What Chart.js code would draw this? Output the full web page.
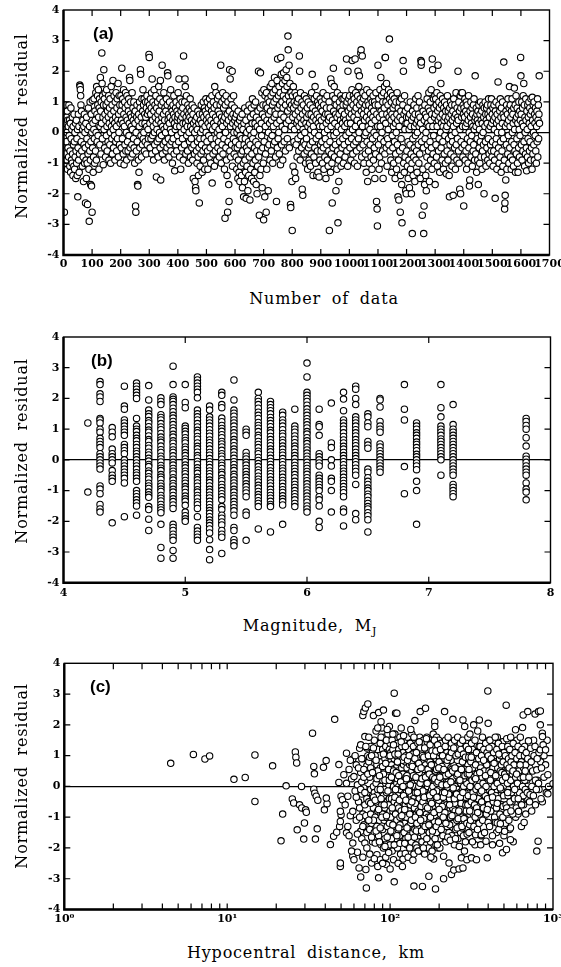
<!DOCTYPE html>
<html>
<head>
<meta charset="utf-8">
<script src="https://cdn.jsdelivr.net/npm/chart.js@4.4.1/dist/chart.umd.min.js"></script>
<style>
html,body{margin:0;padding:0;background:#fff;}
body{width:561px;height:967px;position:relative;overflow:hidden;}
canvas{position:absolute;left:0;}
.t{position:absolute;font-family:"DejaVu Serif",serif;font-size:16px;color:#000;white-space:nowrap;letter-spacing:0.8px;word-spacing:5px;}
.yt{transform:translate(-50%,-50%) rotate(-90deg);}
.xt{transform:translate(-50%,-50%);}
.pl{position:absolute;font-family:"Liberation Sans",Arial,sans-serif;font-weight:bold;font-size:17px;color:#000;}
</style>
</head>
<body>
<canvas id="ca" width="561" height="285" style="top:0px"></canvas>
<canvas id="cb" width="561" height="290" style="top:320px"></canvas>
<canvas id="cc" width="561" height="290" style="top:650px"></canvas>

<div class="t yt" style="left:21px;top:126px">Normalized residual</div>
<div class="t yt" style="left:21px;top:451px">Normalized residual</div>
<div class="t yt" style="left:21px;top:776px">Normalized residual</div>
<div class="t xt" style="left:324px;top:298px">Number of data</div>
<div class="t xt" style="left:310px;top:627px">Magnitude, M<sub style="font-size:11px">J</sub></div>
<div class="t xt" style="left:306px;top:952px">Hypocentral distance, km</div>
<div class="pl" style="left:93px;top:24px">(a)</div>
<div class="pl" style="left:91px;top:351px">(b)</div>
<div class="pl" style="left:90px;top:677px">(c)</div>

<script>
// ---------- Panel (a): normalized residual vs. data number (x = data number, 1..N)
const residualsA = [
-0.4,0.8,-2.6,0.3,-0.7,0.9,-1.0,0.1,-0.3,0.5,-0.9,0.0,0.7,-1.2,0.4,-0.5,0.2,-0.8,0.9,-0.1,
0.4,-1.1,-0.6,0.3,-1.3,0.8,-0.2,-0.9,0.1,-1.0,0.5,-0.7,-1.4,0.2,-0.4,-1.1,0.6,-0.3,-1.2,0.0,
-0.8,0.3,-1.5,-0.6,0.4,-1.0,-0.2,-1.4,0.1,-2.1,-0.5,0.6,-0.9,0.2,-1.3,-0.7,1.55,1.5,1.4,1.2,
0.9,-0.3,0.7,-0.6,0.3,-1.1,0.1,0.4,-0.8,-1.6,0.2,-0.4,0.6,-1.0,0.0,-0.5,-2.3,0.3,-0.9,-1.5,
0.5,-0.2,-1.0,-2.35,0.1,-0.7,0.8,-0.4,-1.2,-2.9,0.2,-0.6,1.0,-0.9,-1.7,-0.3,0.6,-1.75,0.0,-2.6,
1.05,-0.5,0.3,-1.3,-0.8,0.1,1.1,-0.2,-1.0,0.7,0.4,-0.6,1.3,0.0,-0.9,1.5,0.6,-0.3,1.2,0.9,
-0.1,1.4,0.5,-1.2,0.8,1.1,-0.4,0.2,1.8,0.7,-0.7,1.0,0.3,2.6,1.6,-0.2,1.2,0.5,-1.05,0.9,
2.05,0.1,1.1,-0.5,0.6,1.3,-0.8,0.4,0.9,-0.1,1.4,0.2,-0.6,0.7,1.0,-0.3,0.5,1.2,-0.9,0.3,
0.8,-0.4,1.1,0.0,-1.0,0.6,1.5,0.2,-0.2,0.9,-0.7,0.4,1.7,0.1,-0.5,0.7,1.2,-0.1,0.3,-0.9,
1.0,0.5,-0.3,1.3,0.2,-0.6,0.8,1.1,-0.2,0.4,1.6,-0.8,0.6,0.0,1.2,-0.4,0.9,0.3,-1.0,0.7,
1.2,-0.5,0.4,2.1,0.9,-0.2,1.1,0.3,-0.7,1.4,0.6,-1.05,0.2,1.0,-0.4,0.8,1.3,-0.6,0.5,0.0,
-0.9,1.2,0.4,-0.3,0.9,-0.6,0.7,1.1,-0.1,0.3,1.8,1.7,-0.5,0.6,1.0,-0.8,0.2,0.5,-0.4,1.3,
0.1,-0.7,0.8,0.4,-0.2,1.0,-0.5,0.6,-1.0,0.3,0.7,-2.4,-2.6,0.0,-0.6,0.5,0.9,-0.3,-1.7,-1.75,
0.4,-0.9,0.6,-1.3,0.2,1.0,-0.5,0.8,2.05,1.9,-0.1,0.5,-0.8,1.1,0.3,-0.4,0.7,1.4,-0.2,0.9,
0.0,1.1,-0.6,0.6,0.3,-0.3,1.0,0.5,-0.7,0.8,0.2,1.2,-0.4,0.6,1.0,0.1,-0.2,0.7,2.55,2.45,
0.9,0.3,-0.5,1.1,0.6,-0.2,0.8,1.3,-0.7,1.75,0.4,-0.1,1.0,0.2,-0.9,0.7,1.4,0.0,-0.4,0.9,
0.5,-0.6,1.2,0.3,-1.45,0.8,0.1,-0.3,1.0,0.6,-0.8,0.4,1.5,-0.2,0.7,0.0,1.1,-0.5,1.7,-1.55,
0.3,0.9,-0.1,0.5,2.2,-0.7,0.2,1.0,-0.4,0.6,1.3,0.1,-0.9,0.4,0.8,-0.3,0.0,0.7,-0.6,1.1,
0.2,-0.5,0.9,1.95,1.85,0.4,-0.2,0.6,-0.8,0.3,1.0,-0.4,0.5,0.1,1.4,-0.6,0.8,0.0,-0.3,0.7,
-1.0,0.4,0.9,-0.2,0.6,1.2,-0.7,0.3,-1.25,0.5,0.1,0.8,-0.4,1.0,0.2,-0.6,0.7,0.4,-0.1,0.5,
1.3,0.6,-0.3,1.75,0.9,-0.8,0.2,1.1,0.4,-1.2,0.7,0.0,-0.5,0.5,1.0,-0.2,0.8,0.3,-0.9,2.5,
0.6,0.1,-0.4,1.0,1.75,1.5,0.3,-0.7,0.5,1.2,-0.1,0.7,0.2,-0.6,0.9,0.4,-1.0,0.6,0.0,0.8,
-0.3,0.5,1.1,-0.8,0.2,0.7,-0.2,0.4,-0.5,0.9,0.1,-0.9,0.6,-1.5,0.3,-0.4,0.8,-0.7,0.0,-1.6,
0.4,-1.8,-1.9,0.2,-0.6,0.5,-1.0,0.1,-0.3,0.7,-0.8,-1.4,0.3,-0.5,-2.3,0.6,-0.2,-1.1,0.4,0.0,
-0.7,0.9,-0.4,0.3,-1.3,0.6,0.1,-0.6,1.0,-0.9,0.5,-0.2,0.8,-1.2,0.2,0.7,-0.5,1.1,0.0,0.4,
0.6,-0.3,1.0,-0.6,-1.2,0.3,0.8,-0.1,0.5,-0.8,1.1,0.2,-0.5,0.9,-1.0,0.4,-0.2,0.7,1.2,-1.65,
0.1,0.6,-0.7,1.0,0.3,-0.4,0.8,-1.1,1.5,0.2,-0.6,0.5,1.3,-0.2,0.9,-0.9,0.4,0.0,1.1,-0.5,
0.7,-0.3,1.2,0.1,-0.8,0.6,-0.1,0.9,-0.6,2.2,0.3,-1.0,0.5,1.0,-0.4,0.2,1.3,-0.7,0.4,0.8,
-0.2,1.1,-1.2,0.5,-2.8,0.9,0.0,-0.5,1.2,-0.9,0.3,-1.4,0.6,-2.6,1.0,-0.3,0.4,-1.7,-2.25,0.7,
2.05,-0.6,1.75,0.2,-0.8,1.1,0.5,-0.4,0.9,2.0,-1.1,0.3,0.6,-0.2,1.2,0.0,-0.7,0.8,0.4,-0.5,
0.5,-0.3,0.2,-0.8,0.6,-1.2,0.0,-0.5,0.3,-1.5,0.7,-0.9,0.1,-1.3,-0.4,0.4,-1.6,-0.1,0.5,-1.1,
-0.7,0.2,-1.4,-0.2,0.6,-1.8,-0.6,0.1,-1.0,-2.1,0.3,-0.4,-1.6,0.8,-0.9,-0.2,-1.3,0.4,-2.15,-0.5,
0.0,-1.1,0.7,-0.6,-1.9,0.2,-0.3,-1.4,0.9,-0.8,0.1,-2.2,-0.4,0.5,-1.2,-0.1,0.8,-1.5,-0.7,0.3,
1.1,-0.2,-1.0,0.6,-1.6,0.0,0.9,-0.5,-1.3,0.3,-0.9,1.0,-0.3,-1.7,0.5,-0.6,-2.0,0.2,-1.1,0.7,
-0.4,2.0,-0.8,0.4,-2.7,0.1,-1.4,0.8,1.95,-0.6,-1.2,0.3,-0.1,1.3,-1.8,0.6,-0.5,0.9,-1.0,-2.85,
1.4,-0.3,0.5,-2.1,1.2,0.2,-0.7,0.9,-2.6,1.3,-1.2,0.4,0.8,-0.5,1.1,-1.9,0.0,0.6,-0.4,1.0,
0.3,-0.9,1.5,0.7,-0.2,1.2,-0.6,0.4,1.6,-0.1,0.9,-1.0,1.3,0.2,-0.4,1.0,0.5,1.8,-0.3,0.7,
1.4,-0.8,0.6,1.1,-2.25,0.3,1.7,-0.5,2.4,0.8,-0.2,1.2,0.0,1.5,-0.7,0.9,0.4,1.3,-1.05,2.45,
0.6,1.9,-0.4,1.0,0.2,1.6,-0.9,0.8,1.2,1.95,0.5,-0.3,1.4,0.1,1.7,-0.6,0.9,1.1,2.05,0.3,
1.8,1.5,-0.2,0.7,3.15,2.7,1.2,0.4,2.2,-0.5,1.0,1.6,0.8,-2.35,-2.45,1.3,0.2,0.9,-1.6,-3.2,
1.2,0.5,-1.1,1.5,0.8,-0.3,1.0,0.1,-1.3,1.3,0.6,-1.5,0.9,-0.4,1.2,0.3,-0.8,1.0,0.4,-0.2,
0.7,1.1,-0.6,0.2,2.5,2.0,0.5,-0.9,1.3,-0.1,0.8,0.3,-0.5,1.0,-1.85,0.6,-2.05,0.1,0.9,-0.3,
0.4,-0.7,1.2,0.0,-0.4,0.7,-1.0,0.3,1.1,-0.2,0.5,-0.6,0.8,-1.2,0.2,1.0,-0.5,0.6,-0.9,-1.0,
0.3,-0.4,0.9,-1.1,0.1,0.6,-0.7,1.3,0.4,1.9,-0.3,0.8,-1.4,0.2,0.5,-0.8,1.1,0.0,-0.5,1.5,
0.7,-1.0,0.4,-0.2,1.2,-1.4,0.6,-0.6,1.0,-1.3,0.3,0.9,-0.1,-1.45,0.5,0.2,-0.9,1.1,-0.4,0.8,
-0.6,0.4,1.0,-0.3,0.7,-1.0,0.2,1.3,-0.5,0.9,-1.2,0.5,0.0,-0.8,1.1,-0.2,0.6,-1.5,0.3,0.8,
-0.4,1.2,-0.9,0.1,0.6,-1.1,0.4,-0.6,1.0,-3.2,0.5,-0.3,0.8,-1.3,1.75,0.2,-0.7,1.6,-1.0,-2.3,
0.4,1.2,-0.5,2.1,0.7,-0.1,1.5,-0.8,0.3,1.1,-0.4,0.6,-1.9,0.9,0.0,-1.2,0.5,1.3,-0.6,-2.95,
0.2,-0.9,-1.6,0.6,1.0,-0.3,0.8,-0.7,0.4,1.2,-1.1,0.1,0.7,-0.5,1.1,0.3,-0.2,0.9,-1.0,0.5,
1.1,-0.4,0.6,0.2,-0.8,1.2,0.4,-0.1,0.9,2.4,-0.6,1.0,0.3,-1.1,2.0,0.7,-0.3,1.1,0.0,0.5,
1.2,-0.5,0.8,0.3,-0.9,1.0,0.6,-0.2,1.4,2.35,0.1,-0.7,0.9,1.2,-0.4,0.5,1.1,-1.0,0.7,2.4,
0.2,1.3,-0.3,0.8,-0.6,1.0,0.4,-1.1,1.2,2.0,0.6,-0.2,1.5,0.0,1.85,0.9,-0.5,1.1,0.3,2.6,
2.7,0.7,-0.8,1.0,2.5,0.2,1.3,-0.4,0.6,1.1,-1.0,0.8,0.4,-0.1,1.2,-0.7,0.9,0.0,-1.3,0.5,
1.4,-0.3,0.7,-1.6,1.0,0.2,-0.6,0.9,0.4,-1.0,1.3,0.1,-0.4,0.6,1.1,-0.8,0.3,0.8,-1.2,1.0,
-0.2,0.5,1.2,-0.9,0.7,0.0,-0.5,1.0,-1.5,0.4,0.9,-0.7,1.3,-0.1,-2.25,0.6,-2.5,-3.05,0.2,2.2,
0.9,-0.4,1.1,-1.2,0.5,-0.8,1.4,0.2,-0.2,1.8,0.7,-1.0,1.2,0.0,0.6,-0.6,1.0,-1.5,0.4,1.3,
-0.3,0.8,1.5,-0.7,2.45,2.45,0.3,1.0,-0.5,1.6,0.6,-1.1,1.2,-0.2,0.9,0.1,1.4,-0.4,0.5,3.05,
1.1,-0.6,0.7,1.3,-0.9,0.4,1.0,-1.3,0.6,-0.1,1.2,-0.5,0.8,0.2,-1.0,0.5,1.1,-0.3,0.9,-1.5,
0.3,-0.7,1.0,0.0,-1.2,0.6,1.3,-0.4,0.4,-2.1,0.8,-0.9,-2.2,0.2,1.0,-0.6,0.5,-2.6,-1.4,0.7,
-0.2,1.1,-1.7,-2.95,0.4,-0.5,0.9,2.35,2.0,-1.0,0.6,-1.3,1.2,0.1,-0.8,0.7,-1.9,0.3,-2.0,0.5,
-0.6,0.3,-1.1,0.8,-0.3,-1.5,0.5,-0.9,0.1,-1.8,0.6,-0.4,1.0,-1.2,0.2,-0.7,-2.0,0.4,-1.0,-3.3,
0.7,-0.2,-1.4,0.5,-0.8,0.9,-0.5,0.2,-1.6,0.6,-0.1,1.1,-0.9,0.3,-0.6,0.8,-1.3,0.0,0.4,1.2,
-0.4,0.6,-1.0,0.2,1.0,-0.7,0.5,-1.5,0.3,2.35,2.2,2.3,-0.3,0.8,-2.7,0.1,-1.2,0.7,-0.5,-3.3,
-2.4,0.4,-1.7,0.9,-0.2,0.6,-1.4,0.0,-1.9,0.5,-0.8,1.1,-0.4,0.3,-1.1,0.8,-0.6,1.3,0.2,-1.6,
0.7,-0.3,1.0,-0.9,0.4,1.4,-0.5,0.6,-1.2,2.4,2.05,0.2,-0.7,1.1,-0.1,0.8,-1.0,0.5,1.2,-1.7,
0.6,1.1,-0.4,0.9,-0.8,1.3,0.2,-1.1,0.7,2.2,0.4,-0.6,1.0,-0.2,0.8,-1.3,0.5,1.2,0.0,1.6,
-0.5,0.3,0.9,-0.9,0.6,1.1,-0.3,0.2,-1.2,0.8,0.4,-0.7,1.0,-0.1,0.5,-1.0,0.7,0.1,-1.35,0.9,
0.2,-0.6,1.2,0.4,-0.9,0.7,-0.2,0.5,-1.4,-2.1,0.8,-0.4,0.3,1.0,-0.7,0.6,-0.1,0.9,-1.1,0.4,
-0.3,0.7,-2.05,0.2,1.1,-0.8,0.5,-0.5,0.9,0.0,-1.2,0.6,1.3,-0.4,0.3,-0.9,0.8,-0.2,0.5,2.0,
0.4,-0.6,1.0,-1.0,0.7,-1.85,0.1,1.2,-2.0,0.8,-0.3,1.3,0.5,-0.5,1.3,0.2,-0.8,0.9,0.6,-2.4,
0.8,-0.4,0.5,1.1,-0.9,0.2,0.7,-0.6,1.0,-1.2,0.3,0.9,-0.2,0.6,-1.0,0.4,1.2,-0.5,0.0,-1.75,
-1.55,0.7,-0.3,0.5,1.0,-0.8,0.3,-0.1,0.8,-1.1,0.6,0.2,-0.6,0.9,-0.4,1.1,0.1,-0.9,0.4,1.85,
0.5,-0.7,0.2,0.8,-1.3,0.6,-0.2,0.4,-0.9,0.7,-1.7,0.3,0.9,-0.5,0.1,-1.0,0.6,-0.3,1.0,-0.8,
0.4,-0.1,0.7,-1.2,0.3,-0.6,0.9,0.0,-0.4,0.5,-2.0,0.8,-0.8,0.2,1.0,-0.3,0.6,-1.1,0.4,0.8,
-0.5,0.3,0.9,-0.9,0.6,-0.2,1.1,0.1,-0.7,0.5,-1.0,0.7,0.2,-0.4,0.9,-0.6,1.1,0.3,-0.8,0.6,
-0.3,0.8,-1.1,0.4,-0.6,0.9,0.1,-0.9,0.5,-2.15,0.7,-0.4,1.0,-0.2,0.3,-1.2,0.6,0.0,-0.7,1.65,
0.4,-0.5,0.9,-1.0,0.2,0.7,-0.8,1.1,-0.3,0.5,-1.3,0.8,0.0,-0.6,0.3,1.0,-1.1,0.6,-0.2,2.3,
0.5,-0.9,-2.5,-2.3,-2.05,0.2,-1.55,0.7,-0.4,0.9,-1.2,0.3,0.6,-0.7,1.1,-0.1,0.4,-1.0,0.8,1.5,
-0.5,0.2,0.9,-0.8,0.5,-1.2,0.7,-0.3,1.1,0.0,-0.9,0.6,0.3,-1.1,0.8,-0.4,1.45,0.1,-0.6,0.9,
-1.3,0.4,1.2,-0.7,0.5,-0.2,0.8,-1.0,0.3,-1.3,0.6,-0.5,1.0,0.1,-0.8,0.7,-0.1,0.4,2.45,1.85,
0.6,-0.4,1.0,-0.9,0.3,0.8,-0.6,1.2,0.2,1.6,-0.3,0.9,-1.1,0.5,0.0,-0.7,1.1,0.4,-0.5,-1.25,
0.7,0.1,-0.8,0.9,-0.2,0.5,-1.0,1.0,0.3,-0.6,0.8,-0.3,0.6,-0.9,1.1,0.2,-0.5,0.7,-1.2,1.15,
0.4,-0.7,0.9,0.0,-0.4,1.0,-0.9,0.6,0.3,-0.1,0.8,-0.6,0.5,-1.0,0.2,0.7,-0.3,1.1,-0.8,0.4,
0.9,-0.2,0.6,1.85,0.3
];

// ---------- Panel (b): residuals grouped by magnitude MJ
const magnitudesB = [4.2,4.3,4.4,4.5,4.6,4.7,4.8,4.9,5.0,5.1,5.2,5.3,5.4,5.5,5.6,5.7,5.8,5.9,6.0,6.1,6.2,6.3,6.4,6.5,6.6,6.8,6.9,7.1,7.2,7.8];
const residualsB = [
[1.2,-1.05],
[2.55,2.45,2.15,2.05,1.9,1.35,1.3,1.2,1.0,0.9,0.7,0.6,0.5,0.4,0.2,0.1,0.0,-0.1,-0.2,-0.3,-0.85,-0.95,-1.1,-1.45,-1.6,-1.7],
[1.05,0.9,0.75,0.35,0.2,0.1,0.0,-0.1,-0.35,-0.5,-0.6,-0.7,-2.05],
[2.4,1.75,1.65,1.3,1.2,1.1,1.0,0.9,0.8,0.5,0.4,0.3,0.2,0.0,-0.1,-0.2,-0.3,-0.4,-0.5,-0.6,-0.75,-1.85],
[2.5,2.4,2.3,2.2,2.1,2.0,1.35,1.1,1.0,0.92,0.8,0.7,0.62,0.5,0.4,0.28,0.2,0.1,0.0,-0.1,-0.2,-0.3,-0.42,-0.5,-0.6,-0.7,-1.0,-1.1,-1.2,-1.3,-1.4,-1.5,-1.8],
[2.42,1.95,1.62,1.5,1.41,1.28,1.2,1.08,0.97,0.9,0.78,0.66,0.6,0.47,0.38,0.25,0.16,0.05,-0.04,-0.15,-0.22,-0.36,-0.44,-0.55,-0.63,-0.76,-0.85,-0.93,-1.05,-1.14,-1.22,-1.52,-1.62,-1.93,-2.3],
[2.02,1.9,1.8,1.47,1.38,1.3,1.18,1.07,0.98,0.86,0.74,0.65,0.57,0.45,0.33,0.24,0.12,0.03,-0.07,-0.18,-0.27,-0.35,-0.48,-0.56,-0.64,-0.77,-0.86,-0.95,-1.03,-1.16,-1.25,-1.34,-1.45,-1.55,-1.63,-1.72,-2.1,-2.85,-3.2],
[3.05,2.45,2.05,1.97,1.9,1.8,1.68,1.57,1.45,1.36,1.25,1.15,1.04,0.95,0.83,0.74,0.62,0.54,0.43,0.32,0.24,0.13,0.02,-0.08,-0.17,-0.28,-0.37,-0.46,-0.58,-0.66,-0.77,-0.85,-0.96,-1.05,-1.16,-1.27,-1.36,-1.47,-1.58,-2.1,-2.2,-2.3,-2.42,-2.52,-2.62,-2.95,-3.2],
[2.45,1.87,1.7,1.1,1.02,0.93,0.84,0.72,0.63,0.55,0.42,0.34,0.23,0.14,0.03,-0.06,-0.17,-0.26,-0.37,-0.45,-0.56,-0.67,-0.76,-0.87,-0.95,-1.06,-1.18,-1.27,-1.35,-1.48,-1.7,-1.82,-1.92,-2.0],
[2.7,2.6,2.5,2.4,2.3,2.2,2.02,1.62,1.5,1.4,1.3,1.18,1.07,0.96,0.88,0.76,0.67,0.55,0.44,0.36,0.25,0.14,0.06,-0.05,-0.14,-0.26,-0.35,-0.44,-0.57,-0.65,-0.75,-0.86,-0.97,-1.05,-1.16,-1.25,-1.37,-1.46,-1.58,-1.85,-2.2,-2.32,-2.42,-2.52,-2.62],
[1.75,1.62,1.4,1.3,1.2,1.1,0.98,0.87,0.77,0.65,0.56,0.46,0.35,0.24,0.15,0.04,-0.06,-0.15,-0.25,-0.36,-0.45,-0.55,-0.66,-0.74,-0.85,-0.96,-1.05,-1.15,-1.24,-1.35,-1.45,-1.56,-1.65,-1.74,-1.85,-1.96,-2.05,-2.14,-2.25,-2.38,-2.6,-2.92,-3.25],
[2.2,2.1,1.8,1.7,1.36,1.24,1.12,1.02,0.93,0.82,0.72,0.6,0.52,0.42,0.31,0.2,0.12,0.02,-0.1,-0.18,-0.28,-0.4,-0.48,-0.6,-0.68,-0.8,-0.9,-1.0,-1.1,-1.2,-1.3,-1.52,-1.62,-1.8,-1.9,-2.02,-2.12,-2.3,-2.42,-2.52,-3.05],
[2.6,1.95,1.62,1.52,1.42,1.3,1.2,1.1,0.98,0.88,0.78,0.66,0.57,0.46,0.35,0.26,0.15,0.05,-0.06,-0.15,-0.26,-0.35,-0.47,-0.55,-0.66,-0.75,-0.85,-0.96,-1.05,-1.16,-1.25,-1.36,-1.45,-1.56,-1.66,-1.8,-2.2,-2.3,-2.6,-2.7,-2.8],
[1.0,0.9,0.8,0.24,0.12,0.03,-0.08,-0.17,-0.28,-0.38,-0.48,-0.57,-0.67,-0.78,-0.87,-0.98,-1.08,-1.2,-1.7,-1.8,-2.62],
[2.2,2.0,1.9,1.8,1.68,1.55,1.45,1.35,1.22,1.12,1.03,0.92,0.8,0.72,0.6,0.5,0.4,0.28,0.2,0.08,-0.02,-0.12,-0.22,-0.33,-0.42,-0.53,-0.63,-0.72,-0.83,-0.92,-1.03,-1.13,-1.22,-1.33,-1.42,-1.52,-2.25],
[1.9,1.8,1.7,1.6,1.5,1.38,1.28,1.18,1.08,0.96,0.88,0.76,0.66,0.56,0.46,0.35,0.26,0.15,0.05,-0.05,-0.15,-0.25,-0.36,-0.45,-0.55,-0.66,-0.75,-0.85,-0.96,-1.06,-1.16,-1.25,-1.35,-1.45,-1.52,-2.35],
[1.55,1.45,1.3,1.2,1.1,0.98,0.86,0.77,0.65,0.56,0.45,0.35,0.24,0.15,0.04,-0.06,-0.16,-0.27,-0.36,-0.46,-0.57,-0.67,-0.76,-0.87,-0.97,-1.06,-1.17,-1.27,-1.36,-1.47,-2.1],
[1.65,1.1,1.0,0.9,0.78,0.67,0.56,0.45,0.36,0.24,0.14,0.04,-0.08,-0.18,-0.28,-0.38,-0.48,-0.58,-0.7,-0.8,-0.9,-1.0,-1.1,-1.2,-1.3,-1.42,-1.52],
[3.15,2.7,2.2,2.1,2.0,1.9,1.78,1.66,1.55,1.45,1.34,1.24,1.14,1.04,0.92,0.84,0.72,0.62,0.53,0.42,0.32,0.22,0.12,0.02,-0.08,-0.18,-0.28,-0.38,-0.47,-0.58,-0.68,-0.78,-0.88,-0.98,-1.08,-1.18,-1.28,-1.38,-1.5,-1.6,-1.7],
[1.65,1.15,1.08,0.8,0.2,0.1,0.0,-0.1,-0.2,-0.5,-0.6,-0.7,-0.8,-0.9,-1.0,-1.2,-1.3,-1.5,-2.0,-2.2],
[1.85,0.55,0.4,0.0,-0.2,-0.6,-0.7,-1.0,-1.7],
[2.2,1.98,1.6,1.3,1.2,1.1,1.0,0.88,0.76,0.65,0.55,0.44,0.35,0.24,0.14,0.04,-0.06,-0.16,-0.27,-0.37,-0.46,-0.57,-0.67,-0.77,-0.87,-0.97,-1.07,-1.2,-1.6,-1.7,-2.15],
[2.4,2.3,2.0,1.8,1.4,1.3,1.2,1.1,0.98,0.88,0.78,0.66,0.56,0.46,0.35,0.24,0.14,0.04,-0.06,-0.16,-0.27,-0.38,-0.5,-0.8,-1.75,-1.95],
[1.5,1.4,1.2,1.08,0.6,0.48,0.38,-0.3,-0.4,-0.58,-0.7,-0.8,-0.92,-1.0,-1.12,-1.2,-1.32,-1.42,-1.52,-1.6,-1.72,-1.82,-1.95,-2.35],
[2.0,1.95,1.72,1.25,1.1,1.0,0.9,0.52,0.42,0.3,0.2,0.1,0.0,-0.1,-0.2,-0.3,-0.4],
[2.45,1.65,1.3,-0.22,-1.1],
[1.2,1.1,1.0,0.88,0.8,0.7,0.58,0.5,0.4,0.3,0.18,0.1,0.0,-0.1,-0.2,-0.32,-0.7,-1.0,-2.1],
[2.45,1.7,1.4,1.1,1.0,0.9,0.8,0.68,0.6,0.5,0.4,0.3,0.2,0.1,0.0,-0.5],
[1.8,1.15,1.0,0.9,0.8,0.7,0.6,0.5,0.4,0.3,0.2,0.1,0.0,-0.1,-0.2,-0.3,-0.4,-0.5,-0.8,-0.9,-1.0,-1.1,-1.2],
[1.35,1.25,1.12,1.0,0.72,0.45,0.12,0.02,-0.08,-0.2,-0.3,-0.4,-0.5,-0.75,-0.95,-1.05,-1.3]
];

// ---------- Panel (c): [hypocentral distance km, residual]
const cNear = [[4.5,0.75],[6.2,1.04],[7.3,0.89],[7.8,0.99],[11,0.23],[12.9,0.29],[14.8,1.02],[14.8,-0.49],[19,0.67],[21.4,-1.77],[21.9,-0.9],[23,0.02],[25.1,-0.41],[25.6,-0.54],[26.2,1.12],[26.4,0.95],[26.7,0.76],[26.9,-1.41],[27.8,-0.6],[28.7,-0.7],[28.6,0.0],[29.5,-1.71],[29.8,-1.19],[30.3,-0.76],[30.6,-0.84],[33.4,1.73],[34,0.65],[34.3,0.41],[34,-0.09],[34.5,-0.22],[35.2,-0.32],[35.7,-1.38],[34.8,-1.71],[36,-0.45],[39,0.62],[40.5,0.84],[41,-0.56],[40.6,-0.38],[39.5,-0.76],[45.7,2.18],[43,-1.89],[45,-1.62],[47,-1.49],[48.5,0.71],[48.5,0.13],[49,-1.3],[49.5,-1.14],[50,-0.92],[49.5,-0.81],[50,-0.32],[49.5,-2.6],[49.5,-2.49]];
const cMid = [[52,0.38],[54,0.1],[51,-0.43],[53,-0.6],[54,1.08],[55,-1.3],[54,-1.51],[55,-0.32],[56,0.55],[57,-0.95],[58,0.25],[59,0.89],[59,-0.81],[59,-1.84],[59,-2.27],[60,0.32],[60,-2.38],[61,-0.15],[62,0.7],[62,-1.1],[63,-2.14],[63,0.05],[64,-0.5],[64.5,-2.65],[65,1.24],[65,-0.7],[66,1.35],[66,-1.46],[66,-2.94],[66,0.45],[67,-0.25],[67,-1.7],[68,0.9],[68,-0.9],[68,2.3],[69,2.43],[69,-0.05],[69,-1.25],[70,1.62],[70,-1.84],[70,0.2],[70,-0.6],[70.5,2.55],[71,-2.7],[71.5,-3.3],[72,0.67],[72,-0.4],[72,-1.5],[73,2.68],[73,-1.08],[73,1.0],[73,-0.2],[56,-1.6],[57,0.85],[58,-2.1],[61,1.0],[62,-0.35],[63,-1.55],[64,0.6],[65,-1.0],[67,0.15],[68,-2.3],[69,0.55],[71,-0.95],[72,1.25],
[74,-0.5],[74,0.8],[75,-1.4],[75,0.3],[75,-2.2],[76,1.3],[76,-0.1],[76,-0.9],[77,-2.49],[77,0.5],[77,-1.2],[78,1.1],[78,-0.3],[78,-1.8],[79,2.3],[79,0.0],[79,-0.7],[80,0.9],[80,-1.5],[80,-0.2],[80,1.5],[81,-1.84],[81,0.4],[81,-1.0],[82,1.8],[82,-0.5],[82,0.1],[83,-2.22],[83,-1.3],[83,0.7],[84,1.2],[84,-0.8],[84,-0.1],[85,2.4],[85,-2.97],[85,0.3],[85,-1.6],[86,1.0],[86,-0.4],[86,-1.1],[87,-2.38],[87,0.6],[87,1.4],[88,-0.9],[88,0.0],[88,-1.9],[89,1.9],[89,0.8],[89,-0.6],[90,-1.4],[90,0.2],[90,1.2],[91,2.48],[91,-0.3],[91,-2.0],[92,0.5],[92,-1.1],[92,1.6],[93,-0.7],[93,0.9],[93,-1.7],[94,0.1],[94,1.3],[94,-2.3],[95,-2.54],[95,-0.2],[95,0.7],[96,1.1],[96,-1.3],[96,-0.5],[97,0.4],[97,1.7],[97,-0.9],[98,-1.6],[98,0.0],[98,1.0],[99,1.95],[99,-0.4],[99,-1.2],[100,-2.68],[100,0.6],[100,1.4],[100,-0.8],[100,-1.9],[76,0.6],[79,-1.1],[81,1.0],[84,0.5],[86,-1.8],[88,1.6],[90,-0.9],[92,-0.1],[94,-1.0],[96,0.3],[98,-0.6],[99,1.2],[83,-0.3],[87,-0.1],[91,0.4],[95,1.5]];
const cCore = [[101,0.2],[101,-1.0],[101,1.1],[102,-0.4],[102,0.7],[102,-1.7],[103,1.5],[103,-0.1],[103,-2.1],[104,0.4],[104,-0.8],[104,1.2],[105,-2.38],[105,0.0],[105,-1.3],[106,3.03],[106,-3.1],[106,0.9],[106,-0.5],[107,-1.5],[107,0.3],[107,1.7],[108,2.38],[108,-0.9],[108,0.6],[109,-0.2],[109,-1.9],[109,1.0],[110,2.38],[110,0.1],[110,-1.1],[111,-0.6],[111,1.4],[111,-2.0],[112,0.5],[112,-0.3],[112,-1.4],[113,1.2],[113,-0.7],[113,0.0],[114,-1.6],[114,0.8],[114,-0.1],[115,1.6],[115,-1.0],[115,0.3],[116,-0.4],[116,-2.2],[116,0.9],[117,1.9],[117,-0.8],[117,0.2],[118,-1.3],[118,0.6],[118,1.3],[119,-0.5],[119,-1.8],[119,0.0],[120,-2.36],[120,0.4],[120,1.1],[121,-0.9],[121,0.7],[122,-1.5],[122,0.1],[122,1.5],[123,-0.3],[123,-1.2],[124,-2.18],[124,0.8],[124,-0.6],[125,1.0],[125,-1.7],[125,0.3],
[126,-0.2],[126,1.3],[126,-1.0],[127,0.6],[127,-1.9],[128,1.6],[128,-0.5],[128,0.0],[129,-1.3],[129,0.9],[130,-0.8],[130,0.4],[130,1.2],[131,-1.6],[131,-0.1],[132,0.7],[132,-2.0],[133,1.4],[133,-0.6],[134,0.2],[134,-1.2],[135,1.0],[135,-0.3],[135,-1.8],[136,0.5],[136,1.7],[137,-0.9],[137,0.1],[138,-1.5],[138,0.8],[139,1.3],[139,-0.4],[140,-3.24],[140,-2.2],[140,0.3],[140,-1.1],[141,1.1],[141,-0.7],[142,2.14],[142,0.0],[142,-1.4],[143,0.6],[143,-0.2],[144,-1.9],[144,1.5],[145,0.4],[145,-0.9],[146,-2.0],[146,1.0],[146,-0.5],[147,0.2],[147,-1.3],[148,1.4],[148,-0.1],[149,-0.8],[149,0.7],[150,-1.6],[150,1.2],[150,0.0],[151,-0.4],[151,-1.1],[152,0.9],[152,1.6],[153,2.43],[153,-2.1],[153,-0.6],[154,0.3],[154,-1.5],[155,1.1],[155,-0.2],[156,-1.0],[156,0.5],[157,1.3],[157,-1.8],[158,-3.25],[158,0.1],[158,-0.7],[159,0.8],[159,-1.2],[160,1.5],[160,-0.3],
[161,-1.6],[161,0.4],[162,1.0],[162,-0.8],[163,0.1],[163,-2.2],[164,1.4],[164,-0.4],[165,2.54],[165,-1.2],[165,0.7],[166,-0.1],[166,1.2],[167,-0.9],[167,-1.9],[168,0.5],[168,1.6],[169,-0.5],[169,-1.4],[170,0.9],[170,0.0],[171,-1.0],[171,1.3],[172,-0.3],[172,-2.0],[173,-2.92],[173,0.6],[173,1.1],[174,-0.7],[174,-1.5],[175,0.2],[175,1.5],[176,-1.1],[176,0.8],[177,-0.2],[177,-1.8],[178,1.2],[178,0.3],[179,-0.6],[179,-1.3],[180,1.0],[180,-0.1],[181,-2.1],[181,0.5],[182,1.4],[182,-0.9],[183,0.0],[183,-1.6],[184,0.7],[184,1.7],[185,-2.36],[185,-0.4],[186,1.1],[186,-1.2],[187,0.2],[187,-0.7],[188,2.1],[188,1.95],[188,-1.4],[189,0.6],[189,-0.2],[190,-3.33],[190,1.3],[190,-1.0],[191,0.4],[191,-1.9],[192,0.9],[192,-0.5],[193,-1.5],[193,1.6],[194,0.1],[194,-0.8],[195,1.2],[195,-1.2],[196,-0.3],[196,0.7],[197,-2.0],[197,1.0],[198,-0.6],[198,0.3],[199,1.5],[199,-1.1],[200,-0.1],[200,0.8],[201,-1.7],[202,-2.0],[202,1.1],[203,0.4],[204,-0.9],[205,1.4],[206,-0.4],[207,0.6],[208,-1.3],[209,1.0],[210,-0.2],
[211,-1.6],[212,0.5],[213,-3.0],[213,-2.27],[213,1.2],[214,-0.7],[215,0.2],[216,2.43],[216,-1.1],[217,0.9],[218,-0.3],[219,1.5],[220,-1.8],[220,0.0],[221,0.7],[222,-0.6],[223,1.1],[224,-1.3],[225,0.3],[226,-0.1],[227,1.6],[228,-0.9],[229,0.5],[230,-2.49],[230,-1.5],[231,1.0],[232,-0.4],[233,0.2],[234,1.3],[235,-1.0],[236,0.6],[237,-0.2],[238,-2.86],[238,1.4],[239,-1.6],[240,0.1],[241,0.9],[242,-0.7],[243,2.18],[243,0.4],[244,-1.2],[245,1.1],[246,-2.72],[246,-0.3],[247,0.7],[248,-1.9],[249,1.5],[250,0.0],[251,-0.8],[252,1.2],[253,-1.4],[254,0.3],[255,-0.5],[256,1.0],[257,-1.1],[258,0.6],[259,-0.1],[260,1.6],[261,-1.7],[262,0.2],[263,-0.6],[264,1.3],[265,-2.68],[265,-0.9],[266,0.5],[267,-1.3],[268,0.9],[269,-0.2],[270,1.4],[271,-1.5],[272,0.1],[273,0.7],[274,-2.32],[274,-0.4],[275,1.1],[276,-1.0],[277,0.4],[278,-0.1],[279,1.5],[280,2.16],[280,-2.65],[280,-0.7],[281,0.8],[282,-1.6],[283,0.0],[284,1.2],[285,-0.5],[286,0.5],[287,1.95],[287,-1.2],[288,-0.2],[289,0.9],[290,-1.8],[291,0.3],[292,1.3],[293,-0.8],[294,0.6],[295,-1.4],[296,-2.38],[296,0.1],[297,1.0],[298,-0.4],[299,-1.0],[300,0.7],[300,1.6],
[103,0.55],[107,-0.35],[111,0.25],[115,-1.25],[119,0.85],[123,-0.75],[127,0.35],[131,-0.45],[135,0.75],[139,-1.05],[143,-0.55],[147,0.95],[151,0.45],[155,-0.65],[159,-0.15],[163,0.55],[167,0.25],[171,-0.35],[175,-0.75],[179,0.45],[183,1.05],[187,-1.15],[191,-0.25],[195,0.35],[199,-0.45],[204,0.15],[208,0.65],[212,-0.35],[217,-0.85],[222,0.45],[227,0.15],[232,-1.25],[237,0.85],[242,0.25],[247,-0.95],[252,-0.25],[257,0.35],[262,-1.05],[267,0.75],[272,-0.55],[277,-1.35],[282,0.25],[287,0.55],[292,-0.35],[297,-1.55],[105,1.35],[113,-1.35],[121,1.65],[129,-1.65],[137,1.05],[145,-1.45],[153,1.25],[161,-1.05],[169,1.45],[177,-0.45],[185,0.35],[193,-0.15],[201,0.55],[209,-0.65],[219,0.35],[229,-0.25],[239,0.55],[249,-0.55],[259,0.85],[269,-0.75],[279,0.35],[289,-1.05]];
const cDense = [[66,-0.1],[67,0.9],[68,-1.3],[69,0.3],[70,-0.2],[71,1.3],[72,-2.0],[73,0.4],[74,-1.1],[74,1.6],[75,0.95],[76,-0.55],[77,1.0],[77,-1.65],[78,0.45],[79,-0.35],[79,1.25],[80,-2.35],[81,-0.45],[82,0.85],[82,-1.45],[83,0.25],[84,-2.6],[84,1.9],[85,-0.75],[86,0.35],[87,-1.35],[88,-0.4],[88,2.1],[89,-1.0],[90,0.65],[90,-2.5],[91,1.05],[92,-0.6],[93,0.2],[93,-1.95],[94,0.75],[95,-0.95],[96,1.85],[96,-1.65],[97,-0.15],[98,-2.15],[98,0.55],[99,0.2],[100,1.0],[101,-1.45],[102,0.3],[103,-0.7],[104,1.7],[104,-1.25],[105,0.5],[106,-1.9],[107,1.05],[108,-0.1],[109,0.45],[110,-1.6],[111,0.8],[112,-2.5],[112,1.05],[113,0.35],[114,-0.45],[115,-1.85],[116,0.15],[117,1.45],[118,-0.95],[119,-2.6],[120,0.0],[121,-0.3],[122,0.95],[123,-1.85],[124,1.3],[125,-0.45],[126,0.25],[127,-1.35],[128,0.85],[129,-2.3],[130,-0.15],[131,1.0],[132,-0.9],[133,0.05],[134,1.85],[135,-1.1],[136,-0.5],[137,0.65],[138,-2.4],[139,0.35],[140,1.6],[141,-1.65],[142,0.9],[143,-1.0],[144,0.3],[145,1.1],[146,-1.2],[147,-0.2],[148,0.55],[149,-2.1],[150,0.75],[151,1.45],[152,-0.85],[153,0.1],[154,-1.1],[155,0.6],[156,-1.45],[157,0.25],[158,1.0],[159,-0.5],[160,-2.0],[161,0.95],[162,-0.35],[163,1.25],[164,-1.3],[165,0.3],[166,-0.65],[167,1.55],[168,-1.7],[169,0.1],[170,-0.7],[171,0.55],[172,1.0],[173,-1.25],[174,0.4],[175,-0.3],[176,1.35],[177,-1.0],[178,-2.3],[179,0.7],[180,-0.55],[181,1.15],[182,-1.45],[183,0.3],[184,-0.2],[185,1.0],[186,-0.85],[187,1.5],[188,0.25],[189,-1.7],[190,0.5],[191,1.15],[192,-1.3],[193,0.55],[194,-0.35],[195,-1.9],[196,1.35],[197,0.15],[198,-1.15],[199,0.6],[200,-0.75],[202,0.3],[204,1.2],[206,-1.4],[208,0.05],[210,1.0],[212,-1.0],[214,0.55],[216,-0.2],[218,1.3],[220,-1.2],[222,0.05],[224,0.85],[226,-1.65],[228,0.4],[230,0.95],[232,-0.6],[234,-1.75],[236,0.15],[238,1.1],[240,-0.95],[242,0.5],[244,-0.05],[246,1.25],[248,-0.4],[250,0.6],[252,-1.7],[254,1.0],[256,-0.25],[258,-1.35],[260,0.4],[262,1.05],[264,-0.8],[266,-1.95],[268,0.2],[270,-0.35],[272,1.2],[274,0.55],[276,-1.3],[278,0.8],[280,-0.2],[282,1.05],[284,-1.05],[286,-2.1],[288,0.35],[290,0.95],[292,-0.6],[294,1.3],[296,-1.2],[298,0.4],[300,-0.6],[304,0.95],[308,-1.25],[312,0.35],[316,-0.05],[320,1.2],[324,-0.8],[328,0.6],[332,-1.9],[336,1.0],[340,0.1],[344,0.6],[348,-1.2],[352,1.3],[356,-0.45],[360,-1.9],[364,0.2],[368,-0.9],[372,1.0],[376,-0.2],[380,0.4],[384,1.1],[388,-1.0],[392,-0.3],[396,0.85],[400,-0.5],[405,1.5],[410,-1.0],[415,0.1],[420,0.6],[425,-1.9],[430,0.95],[435,-0.7],[440,1.3],[445,0.3],[450,-1.5],[455,1.6],[460,0.2],[465,-0.3],[470,-1.85],[475,1.25],[480,0.6],[485,-1.1],[490,1.45],[495,0.0],[500,-1.6],[510,-1.2],[520,1.55],[530,0.6],[540,-1.4],[550,1.6],[560,-0.5],[570,-1.8],[580,0.9],[590,-1.0],[600,1.5],[610,-0.9],[620,0.0],[630,1.6],[640,-1.3],[650,0.5],[660,-0.6],[670,1.3],[680,-0.9],[690,0.2],[700,-0.4],[720,0.6],[740,-0.8],[760,1.5],[780,-0.6],[800,0.2],[820,-0.1],[840,0.8],[860,-0.5],[880,1.0],[900,0.7],[920,1.5],[940,0.0]];
const cFar = [[302,-0.3],[303,1.2],[305,-1.5],[306,0.4],[308,-0.8],[309,1.7],[310,0.0],[312,-1.1],[313,0.8],[315,-0.5],[316,-2.32],[316,1.4],[318,0.2],[320,-1.8],[321,0.6],[323,-0.2],[325,1.0],[326,2.0],[327,-1.3],[329,0.3],[330,-0.6],[332,1.5],[333,-1.0],[335,-1.57],[335,0.7],[337,-0.1],[339,-2.38],[339,1.1],[340,-0.7],[342,0.4],[344,-1.4],[345,1.8],[346,0.0],[348,-0.4],[350,0.9],[352,-1.2],[353,2.16],[353,0.2],[355,-0.9],[357,1.3],[358,-0.2],[360,0.6],[362,-1.6],[363,-1.57],[364,1.0],[365,-0.5],[367,0.3],[369,1.6],[370,-1.1],[372,0.1],[374,-0.7],[376,1.2],[378,0.5],[380,-1.5],[382,0.8],[384,-0.3],[386,1.4],[388,-1.78],[388,0.0],[390,-0.9],[392,0.7],[394,1.1],[395,-2.32],[396,-0.4],[398,3.1],[398,0.3],[400,2.05],[400,-1.17],[400,1.0],[402,-0.6],[405,0.5],[408,-1.3],[410,1.5],[412,0.2],[415,-0.8],[418,0.9],[420,-0.2],[422,1.3],[425,-1.6],[428,0.6],[430,-0.5],[432,1.1],[435,0.0],[438,-1.0],[440,0.4],[442,1.6],[444,-1.17],[446,-0.3],[448,0.8],[450,-0.7],[452,1.2],[455,-1.19],[455,0.1],[458,0.6],[460,-0.4],[462,1.4],[465,-1.4],[468,0.3],[470,0.9],[472,-0.9],[475,-1.21],[475,0.5],[478,1.0],[480,-0.1],[482,0.7],[485,-0.6],[488,1.3],[490,-2.16],[490,0.2],[492,-1.0],[495,0.8],[498,-0.3],[500,1.1],
[305,0.55],[315,0.95],[325,-0.35],[335,0.25],[345,-0.85],[355,0.45],[365,-0.15],[375,0.85],[385,0.35],[395,-0.75],[405,1.25],[415,0.45],[425,-0.35],[435,0.75],[445,0.35],[455,-0.55],[465,1.05],[475,-0.05],[485,0.45],[495,-0.65],
[505,-1.46],[505,0.4],[510,1.0],[515,-0.6],[516,2.64],[518,-2.05],[520,-0.7],[520,-0.86],[522,0.7],[525,0.1],[528,1.3],[530,-0.3],[533,0.9],[536,-1.1],[540,0.5],[543,1.2],[545,-0.5],[548,-1.35],[548,-1.73],[550,0.2],[553,0.8],[556,-0.2],[560,1.0],[563,0.4],[566,-0.9],[570,1.4],[573,0.0],[576,0.7],[580,-0.4],[585,1.1],[589,1.84],[590,0.3],[595,-0.7],[600,0.9],[605,0.1],[610,1.3],[615,-0.81],[618,0.5],[622,-0.2],[626,1.0],[630,0.3],[635,-0.5],[640,0.8],[645,1.2],[650,1.91],[650,0.0],[656,2.32],[656,-0.3],[660,0.6],[665,-1.17],[668,1.0],[672,0.2],[676,-0.1],[680,0.7],[685,1.1],[690,0.4],[695,-0.2],[700,2.43],[700,0.9],[512,0.3],[527,-0.2],[538,0.6],[552,-0.8],[568,0.5],[582,-0.1],[598,0.4],[612,-0.4],[628,0.7],[642,-0.6],[658,0.3],[675,0.5],
[707,1.48],[712,0.3],[718,-0.5],[723,-0.27],[730,1.24],[735,0.8],[742,0.0],[750,0.5],[758,-0.3],[765,1.0],[776,2.35],[776,1.3],[780,0.2],[790,-0.1],[795,0.54],[795,-2.1],[800,0.9],[810,-1.78],[815,2.43],[815,0.1],[820,1.1],[836,2.45],[836,2.0],[836,1.19],[845,-0.4],[850,0.6],[860,1.73],[862,1.62],[870,1.35],[880,0.3],[900,1.19],[910,-0.2],[930,0.38],[930,-0.24],[1000,0.09]];

// ---------- tick values
const yTicks = [-4,-3,-2,-1,0,1,2,3,4];
const logTicksC = [1,2,3,4,5,6,7,8,9,10,20,30,40,50,60,70,80,90,100,200,300,400,500,600,700,800,900,1000];
const supDigits = {0:'\u2070',1:'\u00B9',2:'\u00B2',3:'\u00B3'};

// ---------- build datasets from arrays
const dataA = residualsA.map((r,i)=>({x:i+1,y:r}));
const dataB = [];
magnitudesB.forEach((m,k)=>residualsB[k].forEach(r=>dataB.push({x:m,y:r})));
const dataC = [].concat(cNear,cMid,cCore,cDense,cFar).map(p=>({x:p[0],y:p[1]}));

const tickFont = {family:'"DejaVu Serif", serif', size:11, weight:'bold'};

const framePlugin = {
  id:'frameTicks',
  afterDatasetsDraw(chart){
    const {ctx, chartArea:a} = chart;
    const xs = chart.scales.x, ys = chart.scales.y;
    ctx.save();
    ctx.strokeStyle = '#000';
    ctx.lineWidth = 1.2;
    ctx.beginPath();
    xs.ticks.forEach(t=>{
      const px = xs.getPixelForValue(t.value);
      if (px > a.left+2 && px < a.right-2){
        ctx.moveTo(px, a.bottom); ctx.lineTo(px, a.bottom-6);
        ctx.moveTo(px, a.top); ctx.lineTo(px, a.top+6);
      }
    });
    ys.ticks.forEach(t=>{
      const py = ys.getPixelForValue(t.value);
      if (py > a.top+2 && py < a.bottom-2){
        ctx.moveTo(a.left, py); ctx.lineTo(a.left+6, py);
        ctx.moveTo(a.right, py); ctx.lineTo(a.right-6, py);
      }
    });
    ctx.stroke();
    ctx.lineWidth = 1.4;
    ctx.strokeRect(a.left, a.top, a.right-a.left, a.bottom-a.top);
    ctx.lineWidth = 2.4;
    ctx.beginPath();
    ctx.moveTo(a.left, a.top); ctx.lineTo(a.left, a.bottom); ctx.lineTo(a.right, a.bottom);
    ctx.stroke();
    ctx.restore();
  }
};

function makeChart(id, cfg){
  const canvas = document.getElementById(id);
  const H = canvas.height, W = canvas.width;
  const top = cfg.canvasTop;
  const xAxisH = 22;
  return new Chart(canvas, {
    type:'scatter',
    data:{datasets:[{data:cfg.data, pointRadius:3.2, pointHoverRadius:3.2, borderWidth:1.1,
      pointBorderColor:'#000', pointBackgroundColor:'#fff', showLine:false}]},
    options:{
      responsive:false, animation:false, devicePixelRatio:1, events:[],
      layout:{padding:{top:cfg.areaTop-top, left:0, right:W-cfg.areaRight, bottom:(top+H)-cfg.areaBottom-xAxisH}},
      plugins:{legend:{display:false}, tooltip:{enabled:false}},
      scales:{
        x: Object.assign({
          grid:{display:false, drawTicks:false},
          border:{display:false},
          afterFit(s){ s.height = xAxisH; s.paddingLeft = 0; s.paddingRight = 0; },
        }, cfg.x),
        y:{
          type:'linear', min:-4, max:4,
          afterBuildTicks(s){ s.ticks = yTicks.map(v=>({value:v})); },
          ticks:{font:tickFont, color:'#000', padding:4, autoSkip:false, callback:v=>String(v)},
          grid:{drawTicks:false, color:c=>(c.tick && c.tick.value===0)?'#000':'rgba(0,0,0,0)', lineWidth:1.2},
          border:{display:false},
          afterFit(s){ s.width = cfg.areaLeft; s.paddingTop = 0; s.paddingBottom = 0; }
        }
      }
    },
    plugins:[framePlugin]
  });
}

makeChart('ca', {
  canvasTop:0, areaTop:10, areaBottom:255, areaLeft:63.5, areaRight:549.5, data:dataA,
  x:{type:'linear', min:0, max:1700,
     ticks:{stepSize:100, font:tickFont, color:'#000', padding:3, autoSkip:false, maxRotation:0, minRotation:0, callback:v=>String(v)}}
});
makeChart('cb', {
  canvasTop:320, areaTop:337, areaBottom:582.7, areaLeft:63.5, areaRight:550.5, data:dataB,
  x:{type:'linear', min:4, max:8,
     ticks:{stepSize:1, font:tickFont, color:'#000', padding:4, autoSkip:false, maxRotation:0, minRotation:0, callback:v=>String(v)}}
});
makeChart('cc', {
  canvasTop:650, areaTop:663.3, areaBottom:909.5, areaLeft:64.3, areaRight:553, data:dataC,
  x:{type:'logarithmic', min:1, max:1000,
     afterBuildTicks(s){ s.ticks = logTicksC.map(v=>({value:v})); },
     ticks:{font:tickFont, color:'#000', padding:3, autoSkip:false, maxRotation:0, minRotation:0,
       callback:v=>{ const e = Math.log10(v); return Math.abs(e-Math.round(e))<1e-9 ? '10'+supDigits[Math.round(e)] : ''; }}}
});
</script>
</body>
</html>
